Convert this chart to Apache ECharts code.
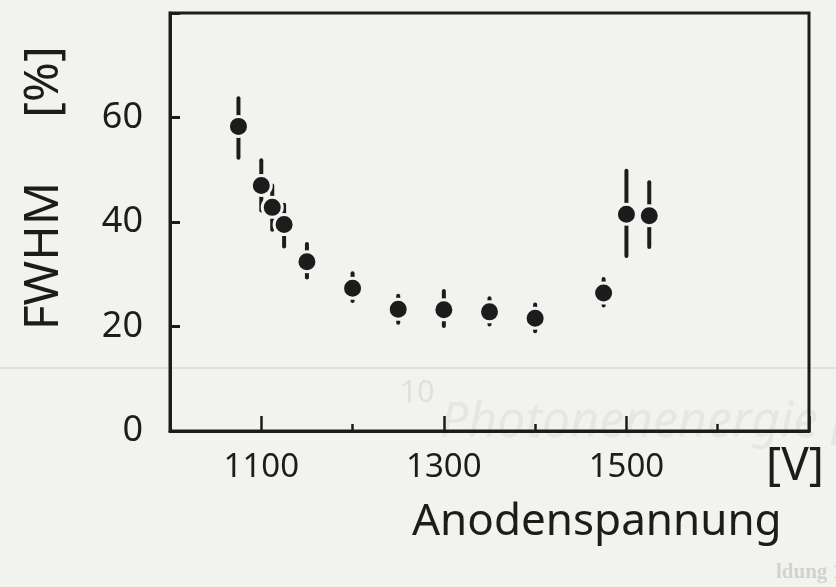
<!DOCTYPE html>
<html>
<head>
<meta charset="utf-8">
<title>FWHM vs Anodenspannung</title>
<script src="https://cdn.jsdelivr.net/npm/echarts@6/dist/echarts.min.js"></script>
<style>
    html,body{margin:0;padding:0;background:#f2f2ef;}
    #main{width:836px;height:587px;}
</style>
</head>
<body>
<div id="main"></div>
<script>
var voltage = [1075, 1100, 1112, 1125, 1150, 1200, 1250, 1300, 1350, 1400, 1475, 1500, 1525];
var fwhm    = [58.3, 47.0, 42.8, 39.5, 32.4, 27.3, 23.3, 23.2, 22.8, 21.6, 26.4, 41.5, 41.2];
var errLow  = [6.0, 4.8, 4.3, 4.2, 3.0, 2.4, 2.6, 3.1, 2.4, 2.5, 2.4, 8.0, 6.0];
var errHigh = [5.4, 4.8, 4.2, 3.8, 3.4, 2.9, 2.6, 3.6, 2.6, 2.6, 2.7, 8.3, 6.4];
var xTickLabels = ['1100', '1300', '1500'];
var yTickLabels = ['0', '20', '40', '60'];

(function(dom){
    var ink = '#1c1c1c';
    var paper = '#f2f2ef';
    var faint = '#e0e0dc';
    var hand = 'Noto Sans';

    var app = {
        init:function(){
            var chart = echarts.init(dom.getElementById('main'));
            chart.setOption(this.buildOption());
        },
        buildOption:function(){
            var points = [], bars = [];
            for (var i = 0; i < voltage.length; i++) {
                points.push([voltage[i], fwhm[i]]);
                bars.push([voltage[i], fwhm[i] - errLow[i], fwhm[i] + errHigh[i]]);
            }
            return {
                backgroundColor: paper,
                animation: false,
                grid: {
                    left: 170, right: 27, top: 13, bottom: 156,
                    show: true, borderColor: ink, borderWidth: 3
                },
                xAxis: [{
                    type: 'value', min: 1000, max: 1700, interval: 100,
                    axisLine: {show: true, lineStyle: {color: ink, width: 3}},
                    axisTick: {show: true, inside: true, length: 7, lineStyle: {color: ink, width: 2.5}},
                    splitLine: {show: false},
                    axisLabel: {
                        margin: 20, color: ink, fontSize: 33, fontFamily: hand,
                        formatter: function(v){
                            var s = String(v);
                            return xTickLabels.indexOf(s) >= 0 ? s : '';
                        }
                    }
                }, {
                    // gespiegelte Achse: liefert die langen Striche bei 1100/1300/1500
                    type: 'value', min: 1000, max: 1700, interval: 200, inverse: true,
                    position: 'bottom',
                    axisLine: {show: false},
                    axisTick: {show: true, inside: true, length: 15, lineStyle: {color: ink, width: 2.5}},
                    axisLabel: {show: false},
                    splitLine: {show: false}
                }],
                yAxis: {
                    type: 'value', min: 0, max: 80, interval: 20,
                    axisLine: {show: true, lineStyle: {color: ink, width: 3}},
                    axisTick: {show: true, inside: true, length: 10, lineStyle: {color: ink, width: 3}},
                    splitLine: {show: false},
                    axisLabel: {
                        margin: 27, color: ink, fontSize: 36, fontFamily: hand,
                        formatter: function(v){
                            var s = String(v);
                            return yTickLabels.indexOf(s) >= 0 ? s : '';
                        }
                    }
                },
                graphic: [
                    {type: 'line', silent: true, z: -1, shape: {x1: 0, y1: 368, x2: 836, y2: 368},
                        style: {stroke: faint, lineWidth: 2}},
                    {type: 'text', silent: true, z: -1, left: 400, top: 378,
                        style: {text: '10', fill: faint, fontSize: 30, fontFamily: hand}},
                    {type: 'text', silent: true, z: -1, left: 440, top: 398,
                        style: {text: 'Photonenenergie [', fill: '#e6e6e2', fontSize: 50, fontFamily: hand, fontStyle: 'italic'}},
                    {type: 'text', silent: true, z: -1, left: 776, top: 562,
                        style: {text: 'ldung 18: Absorption von Photonen in verschiedenen Edelgasen',
                            fill: '#d2d2ce', fontSize: 21, fontWeight: 'bold', fontFamily: 'Liberation Serif'}},
                    {type: 'text', left: 766, top: 444,
                        style: {text: '[V]', fill: ink, fontSize: 46, fontFamily: hand}},
                    {type: 'text', left: 412, top: 500,
                        style: {text: 'Anodenspannung', fill: ink, fontSize: 44, fontFamily: hand}},
                    {type: 'text', x: 44, y: 256, rotation: Math.PI / 2,
                        style: {text: 'FWHM', fill: ink, fontSize: 48, fontFamily: hand,
                            align: 'center', verticalAlign: 'middle'}},
                    {type: 'text', x: 44, y: 82, rotation: Math.PI / 2,
                        style: {text: '[%]', fill: ink, fontSize: 48, fontFamily: hand,
                            align: 'center', verticalAlign: 'middle'}}
                ],
                series: [{
                    name: 'Fehler',
                    type: 'custom',
                    data: bars,
                    encode: {x: 0, y: [1, 2]},
                    z: 2,
                    renderItem: function(params, api){
                        var lo = api.coord([api.value(0), api.value(1)]);
                        var hi = api.coord([api.value(0), api.value(2)]);
                        return {
                            type: 'line',
                            shape: {x1: lo[0], y1: lo[1], x2: hi[0], y2: hi[1]},
                            style: {stroke: ink, lineWidth: 4, lineCap: 'round'}
                        };
                    }
                }, {
                    name: 'FWHM',
                    type: 'scatter',
                    data: points,
                    z: 3,
                    symbol: 'circle',
                    symbolSize: 20,
                    itemStyle: {color: ink, opacity: 1, borderColor: paper, borderWidth: 3}
                }]
            };
        }
    };
    app.init();
})(document);
</script>
</body>
</html>
